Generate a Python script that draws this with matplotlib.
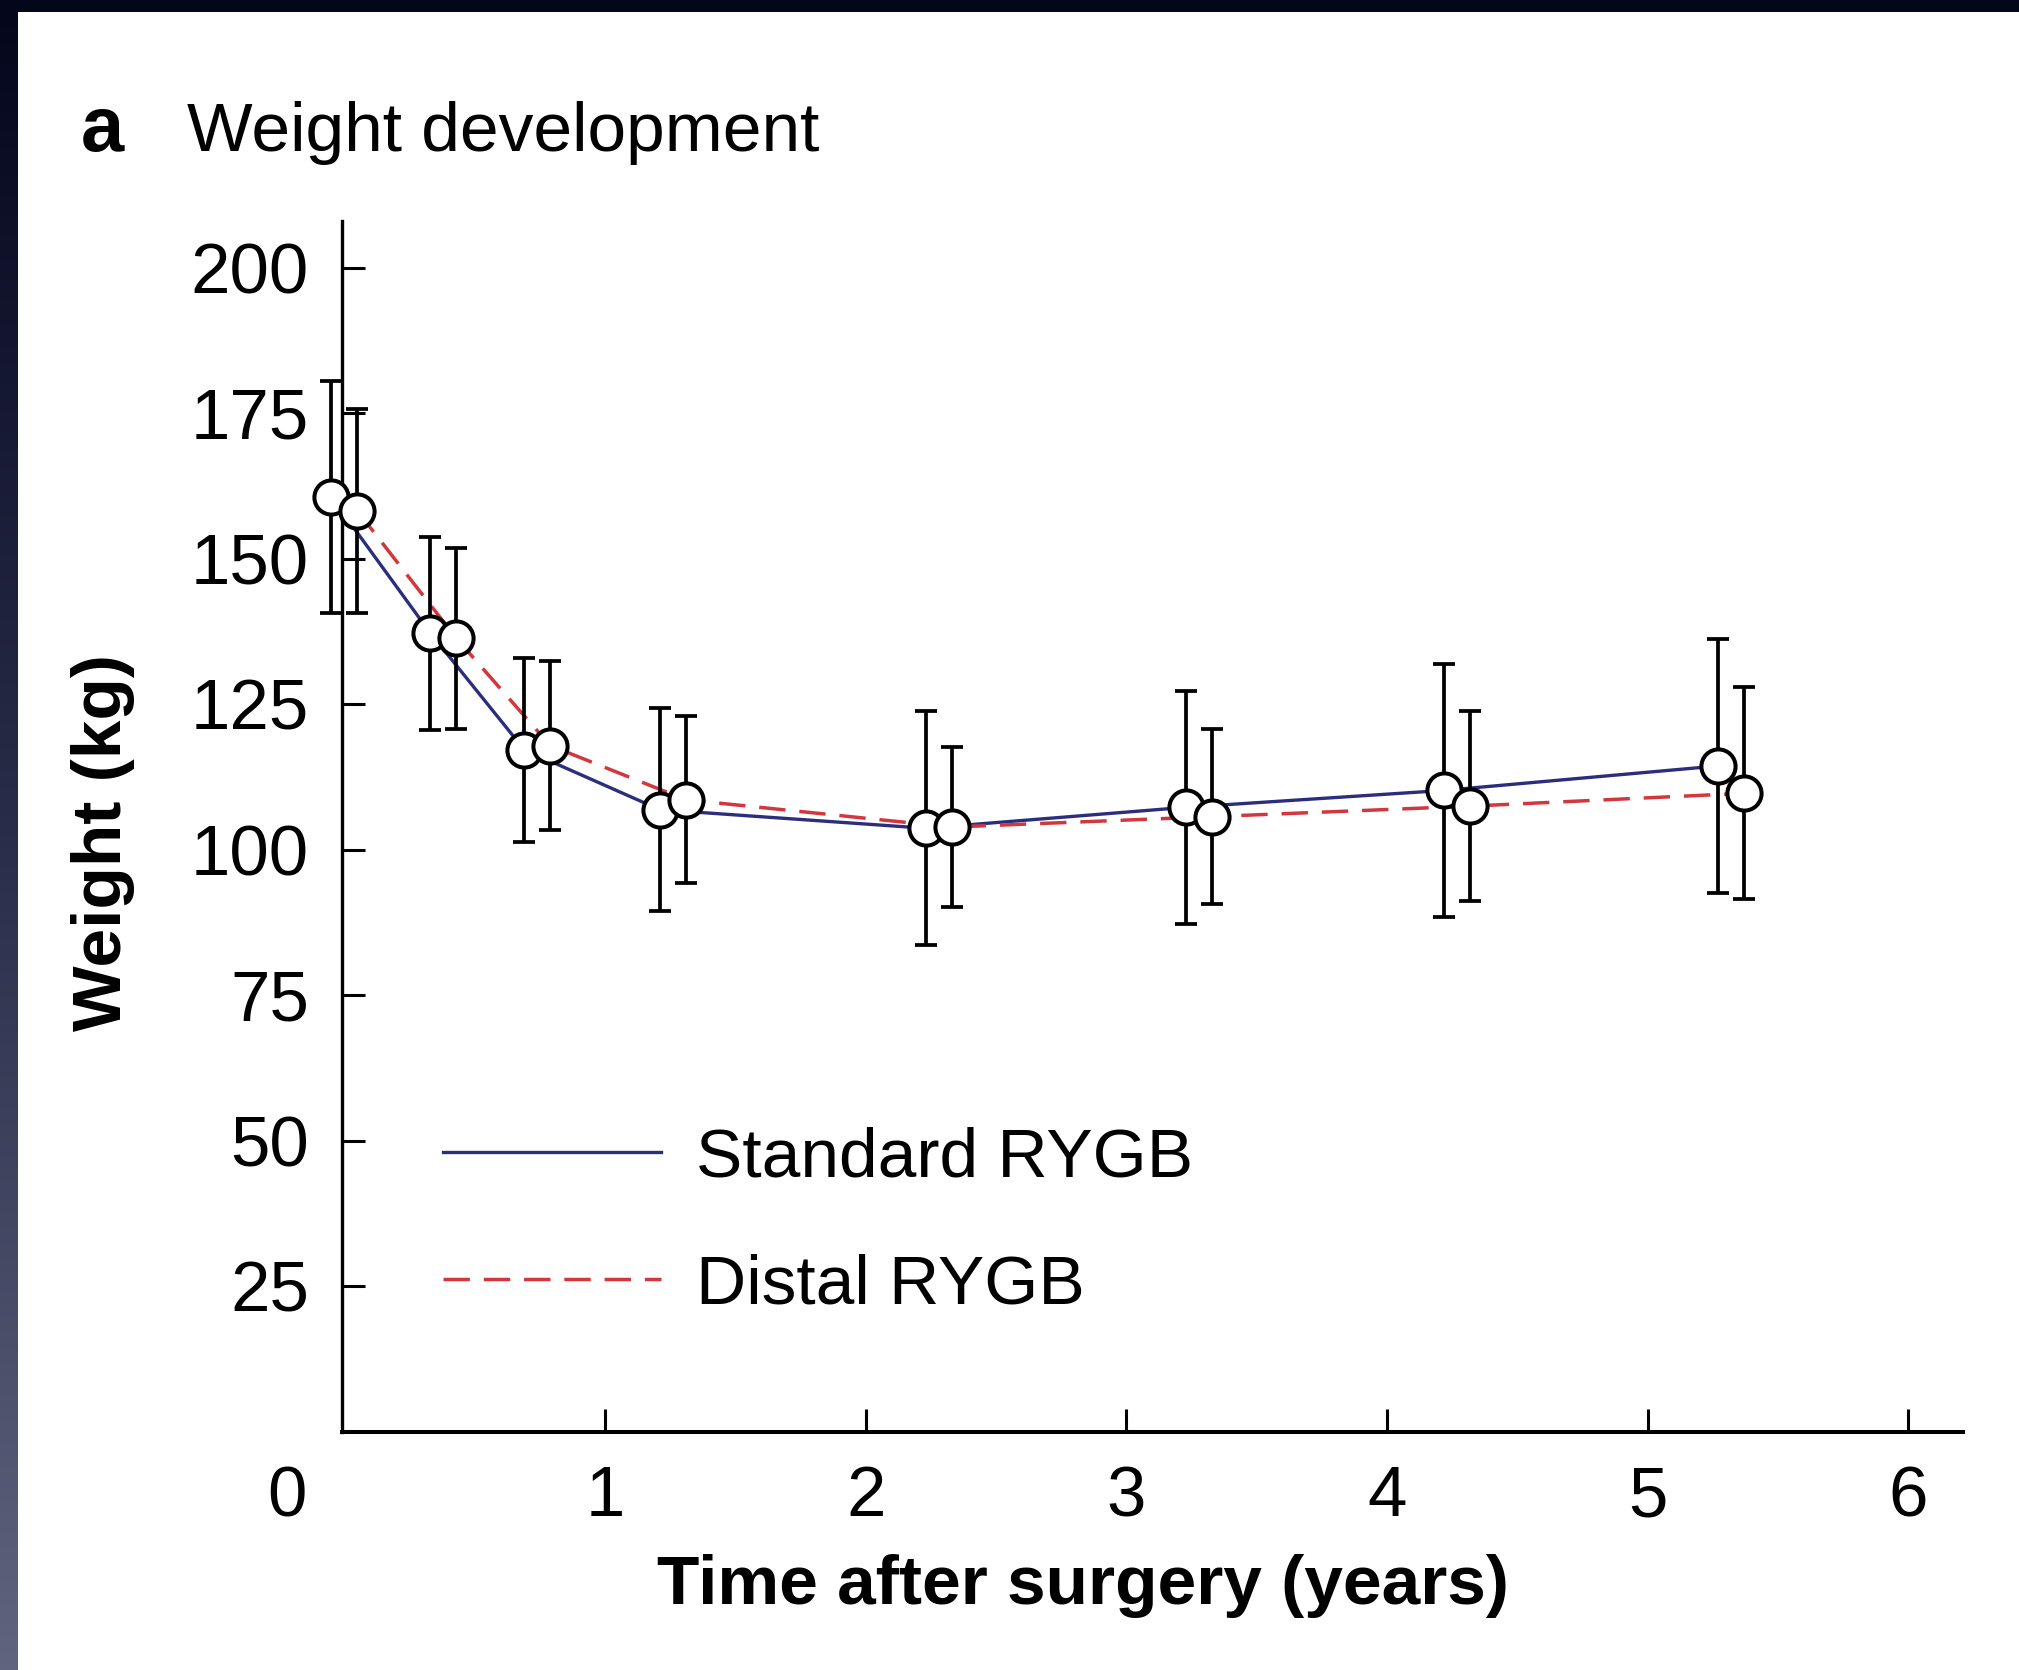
import numpy as np
import matplotlib.pyplot as plt
from matplotlib.colors import LinearSegmentedColormap
from matplotlib.patches import Rectangle
from matplotlib.transforms import ScaledTranslation

plt.rcParams['font.family'] = ['Liberation Sans', 'DejaVu Sans']
plt.rcParams['lines.scale_dashes'] = False

# Follow-up visits (years after surgery), weight mean and SD in kg
visit_years = [0.0, 0.38, 0.74, 1.26, 2.28, 3.28, 4.27, 5.32]
standard_mean = [160.6, 137.2, 117.2, 106.9, 103.7, 107.3, 110.2, 114.4]
standard_sd = [20.0, 16.6, 15.8, 17.4, 20.1, 20.0, 21.7, 21.8]
distal_mean = [158.2, 136.3, 117.9, 108.6, 103.9, 105.7, 107.5, 109.7]
distal_sd = [17.5, 15.5, 14.5, 14.3, 13.7, 15.0, 16.3, 18.2]

x_ticks = [0, 1, 2, 3, 4, 5, 6]
y_ticks = [25, 50, 75, 100, 125, 150, 175, 200]
series_names = ['Standard RYGB', 'Distal RYGB']

navy = '#2b2e7c'
red = '#d2373e'
dodge = 0.05  # side-by-side offset of the two groups at each visit

W, H, DPI = 2019, 1670, 200
fig = plt.figure(figsize=(W / DPI, H / DPI), dpi=DPI, facecolor='white')

# dark slide frame: strip on top, gradient on the left
bg = fig.add_axes([0, 0, 1, 1], zorder=-5)
bg.set_xlim(0, W)
bg.set_ylim(H, 0)
bg.axis('off')
frame_cmap = LinearSegmentedColormap.from_list('frame', ['#04061c', '#2a2d49', '#60647f'])
bg.imshow(np.linspace(0, 1, 256).reshape(-1, 1), extent=[0, 18, H, 0],
          aspect='auto', cmap=frame_cmap)
bg.add_patch(Rectangle((0, 0), W, 12, color='#04061a', lw=0))

ax = fig.add_axes([341.5 / W, 1 - 1432 / H, (1963 - 341.5) / W, (1432 - 221) / H])
ax.set_xlim(-0.011, 6.21)
ax.set_ylim(0, 208)

x_std = np.array(visit_years) - dodge
x_dis = np.array(visit_years) + dodge

line_std, = ax.plot(x_std, standard_mean, color=navy, lw=1.2, zorder=2,
                    label=series_names[0], clip_on=False)
line_dis, = ax.plot(x_dis, distal_mean, color=red, lw=1.25, dashes=(9.5, 5.0),
                    zorder=2, label=series_names[1], clip_on=False)

for xs, mean, sd in [(x_std, standard_mean, standard_sd), (x_dis, distal_mean, distal_sd)]:
    eb = ax.errorbar(xs, mean, yerr=sd, fmt='none', ecolor='black',
                     elinewidth=1.35, capsize=3.9, capthick=1.35, zorder=3)
    for art in eb.lines[1] + eb.lines[2]:
        art.set_clip_on(False)

ax.plot(x_std, standard_mean, 'o', ms=12.3, mfc='white', mec='black', mew=1.45,
        zorder=4, clip_on=False)
ax.plot(x_dis, distal_mean, 'o', ms=12.3, mfc='white', mec='black', mew=1.45,
        zorder=5, clip_on=False)

for side in ['top', 'right']:
    ax.spines[side].set_visible(False)
ax.spines['left'].set_linewidth(1.2)
ax.spines['bottom'].set_linewidth(1.45)

ax.set_xticks(x_ticks)
ax.set_xticklabels([str(v) for v in x_ticks])
ax.set_yticks(y_ticks)
ax.set_yticklabels([str(v) for v in y_ticks])
ax.tick_params(axis='both', direction='in', length=8.4, width=1.1,
               labelsize=25.5, colors='black')
ax.tick_params(axis='y', pad=11.7)
ax.tick_params(axis='x', pad=12.0)

# origin label sits left of the corner
tick0 = ax.xaxis.get_major_ticks()[0]
tick0.tick1line.set_visible(False)
tick0.label1.set_transform(tick0.label1.get_transform()
                           + ScaledTranslation(-57 / DPI, 0, fig.dpi_scale_trans))

ax.set_xlabel('Time after surgery (years)', fontsize=25, fontweight='bold')
ax.xaxis.label.set_va('center')
ax.xaxis.set_label_coords(0.457, -0.1275)
ax.set_ylabel('Weight (kg)', fontsize=25, fontweight='bold')
ax.yaxis.label.set_va('center')
ax.yaxis.set_label_coords(-0.147, 0.487)

ax.legend(handles=[line_std, line_dis], loc='center left',
          bbox_to_anchor=(0.0623, 0.1735), frameon=False, fontsize=25,
          handlelength=3.15, handletextpad=0.5, labelspacing=0.9,
          borderpad=0, borderaxespad=0)

fig.text(81 / W, 1 - 150.6 / H, 'a', fontsize=28, fontweight='bold', va='baseline')
fig.text(187 / W, 1 - 150.6 / H, 'Weight development', fontsize=25, va='baseline')

fig.savefig('out.png', dpi=DPI, facecolor='white')
